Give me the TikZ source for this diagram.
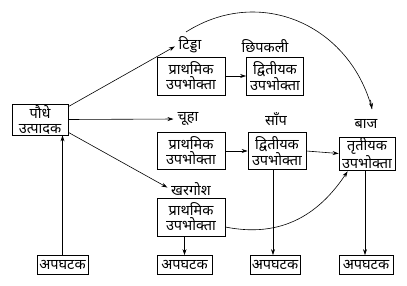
\documentclass[tikz,border=0pt]{standalone}
\usepackage{fontspec}
\newfontfamily\dev[Script=Devanagari]{Noto Sans}
\usetikzlibrary{arrows.meta}
\begin{document}
\begin{tikzpicture}[x=1pt,y=-1pt,
  box/.style={draw,line width=0.8pt,inner sep=0.5pt,align=center,font=\dev\fontsize{14.5}{15}\selectfont},
  lbl/.style={font=\dev\fontsize{14.5}{15}\selectfont,inner sep=1pt},
  arr/.style={-{Stealth[length=6pt,width=4pt]},line width=0.6pt}]
\useasboundingbox (0,0) rectangle (407,286);
\node[box,minimum width=56pt,minimum height=31pt] (prod) at (40,119.5) {पौधे\\उत्पादक};
\node[lbl] (tidda) at (190,45) {टिड्डा};
\node[box,minimum width=68pt,minimum height=38pt] (p1) at (191,76) {प्राथमिक\\उपभोक्ता};
\node[lbl] (chip) at (265,46) {छिपकली};
\node[box,minimum width=57pt,minimum height=38pt] (s1) at (275,76) {द्वितीयक\\उपभोक्ता};
\node[lbl] (chuha) at (188,119) {चूहा};
\node[box,minimum width=68pt,minimum height=37pt] (p2) at (191,151) {प्राथमिक\\उपभोक्ता};
\node[lbl] (saanp) at (276,119) {साँप};
\node[box,minimum width=58pt,minimum height=37pt] (s2) at (277,151) {द्वितीयक\\उपभोक्ता};
\node[lbl] (baaj) at (366,124) {बाज};
\node[box,minimum width=56pt,minimum height=33pt] (t) at (367,153.5) {तृतीयक\\उपभोक्ता};
\node[lbl] (khar) at (191,189) {खरगोश};
\node[box,minimum width=68pt,minimum height=38pt] (p3) at (191,217) {प्राथमिक\\उपभोक्ता};
\node[box,minimum width=51pt,minimum height=19pt] (d1) at (62.5,265) {अपघटक};
\node[box,minimum width=55pt,minimum height=19pt] (d2) at (184.5,265) {अपघटक};
\node[box,minimum width=50pt,minimum height=19pt] (d3) at (275,265) {अपघटक};
\node[box,minimum width=54pt,minimum height=19pt] (d4) at (366,265) {अपघटक};
\coordinate (cstart) at (186,32);
\coordinate (cend) at (372,109);
\coordinate (tin) at ([xshift=9pt,yshift=-1pt]t.south west);
\draw[arr] (d1.north) -- (prod.south -| d1.north);
\draw[arr,shorten >=3pt] (prod.north east) ++(0,3) -- (tidda.west);
\draw[arr,shorten >=3pt] (prod.east) -- (chuha.west);
\draw[arr,shorten >=3pt] (prod.south east) ++(0,-3) -- (khar.west);
\draw[arr] (p1.east) -- (s1.west);
\draw[arr] (p2.east) -- (s2.west);
\draw[arr] (s2.east) -- (t.west);
\draw[line width=0.6pt] (cstart) .. controls (260,-15) and (350,25) .. (cend);
\draw[arr] (370.5,100) -- (cend);
\draw[arr] (p3.east |- 0,227) .. controls (290,240) and (325,205) .. (tin);
\draw[arr] (p3.south -| d2.north) -- (d2.north);
\draw[arr] (s2.south -| 273,0) -- (d3.north -| 273,0);
\draw[arr] (t.south -| 365,0) -- (d4.north -| 365,0);
\end{tikzpicture}
\end{document}
